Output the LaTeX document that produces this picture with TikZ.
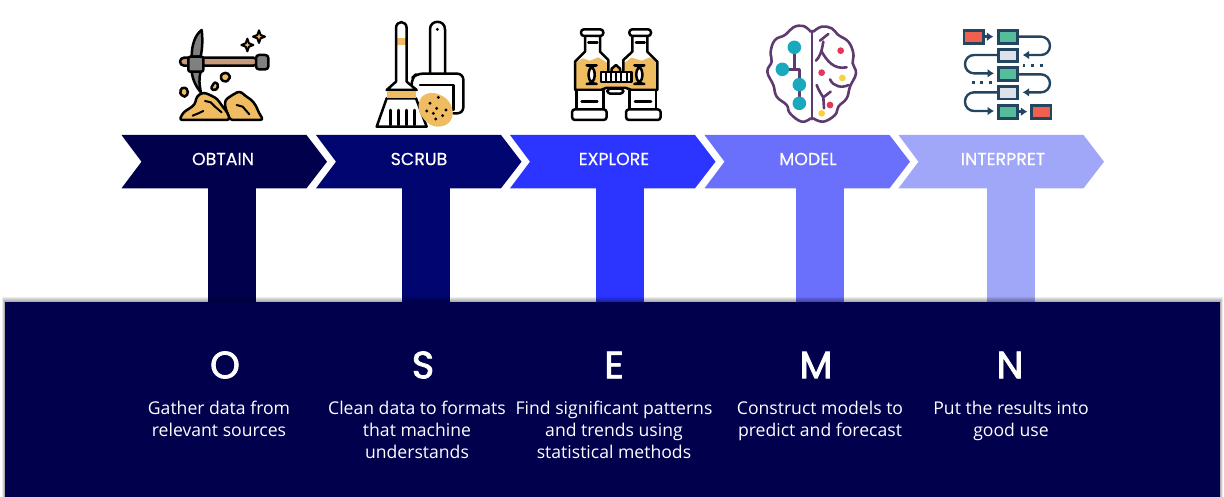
\documentclass[tikz,border=0pt]{standalone}
\usepackage{fontspec}
\setmainfont{Open Sans}
\newfontfamily\popfont[FakeBold=0.4]{Poppins}
\newfontfamily\popbig[FakeBold=2.2]{Poppins}
\usetikzlibrary{arrows.meta}
\definecolor{cOne}{HTML}{00004D}
\definecolor{cTwo}{HTML}{000570}
\definecolor{cThree}{HTML}{2B35FF}
\definecolor{cFour}{HTML}{6B70FC}
\definecolor{cFive}{HTML}{A0A6F8}
\definecolor{gold}{HTML}{F0BC62}
\definecolor{tan}{HTML}{C8997A}
\definecolor{steel}{HTML}{7F8080}
\definecolor{plum}{HTML}{5E3A6E}
\definecolor{teal2}{HTML}{1AA9BC}
\definecolor{redd}{HTML}{E2375A}
\definecolor{yell}{HTML}{F5D33F}
\definecolor{navyl}{HTML}{24455F}
\definecolor{coral}{HTML}{F0604E}
\definecolor{mint}{HTML}{55BC9C}
\definecolor{pale}{HTML}{DEE2E8}
\tikzset{
  chevlabel/.style={text=white,font=\popfont\fontsize{17.4}{20}\selectfont,inner sep=0pt},
  bigletter/.style={text=white,font=\popbig\fontsize{38}{42}\selectfont,inner sep=0pt},
  bodytext/.style={text=white,font=\fontsize{17.6}{22}\selectfont,align=center,inner sep=0pt,anchor=north},
  icon/.style 2 args={shift={(#1,#2)},x=0.33333pt,y=-0.33333pt},
  ink/.style={draw=black,line width=2.5pt,line join=round,line cap=round},
  brainline/.style={draw=plum,line width=2.6pt,line cap=round,line join=round},
  flow/.style={draw=navyl,line width=2.5pt},
  flowarrow/.style={draw=navyl,line width=2.4pt,rounded corners=9pt,-{Latex[length=6.5pt,width=9pt]}},
}
\begin{document}
\begin{tikzpicture}[x=1pt,y=-1pt]
\useasboundingbox (0,0) rectangle (1224,497);
% stems
\foreach \l/\c in {208/cOne,402/cTwo,596/cThree,796/cFour,987/cFive}
  \fill[\c] (\l,186) rectangle (\l+48,303);
% chevrons
\foreach \l/\c in {121.5/cOne,316/cTwo,510/cThree,704.5/cFour,898.5/cFive}
  \fill[\c] (\l,135) -- (\l+185,135) -- (\l+205.5,161.7) -- (\l+185,188.3) -- (\l,188.3) -- (\l+20,161.7) -- cycle;
\node[chevlabel] (lobtain) at (223,159) {OBTAIN};
\node[chevlabel] (lscrub) at (419,159) {SCRUB};
\node[chevlabel] (lexplore) at (614,159) {EXPLORE};
\node[chevlabel] (lmodel) at (808,159) {MODEL};
\node[chevlabel] (linterpret) at (1003,159) {INTERPRET};
% panel shadow
\foreach \d in {1,2,3,4,5}
  \fill[black,opacity=0.075] (5-0.6*\d,302-\d) rectangle (1220+0.6*\d,497);
\fill[cOne] (5,302) rectangle (1220,497);
% letters
\node[bigletter] (bo) at (225,365) {O};
\node[bigletter] (bs) at (423,365) {S};
\node[bigletter] (be) at (614,365) {E};
\node[bigletter] (bm) at (816,365) {M};
\node[bigletter] (bn) at (1010,365) {N};
% body
\node[bodytext] (to) at (219,400.5) {Gather data from\\relevant sources};
\node[bodytext] (ts) at (417,400.5) {Clean data to formats\\that machine\\understands};
\node[bodytext] (te) at (614,400.5) {Find significant patterns\\and trends using\\statistical methods};
\node[bodytext] (tm) at (820,400.5) {Construct models to\\predict and forecast};
\node[bodytext] (tn) at (1011,400.5) {Put the results into\\good use};
% --- pickaxe + piles
\begin{scope}[icon={170}{25}]
  \path[ink,fill=tan,rounded corners=4pt] (30,98) -- (262,98) -- (262,122) -- (30,122) -- cycle;
  \path[ink,fill=steel,rounded corners=3pt] (258,90) rectangle (295,133);
  \path[ink,fill=steel] (95,15) .. controls (75,30) and (65,60) .. (65,95) -- (92,95) .. controls (98,65) and (98,40) .. (95,15) -- cycle;
  \path[ink,fill=steel] (65,140) .. controls (68,165) and (78,185) .. (93,203) .. controls (88,180) and (86,160) .. (92,140) -- cycle;
  \path[ink,fill=steel,rounded corners=2pt] (55,95) rectangle (100,140);
  \foreach \x/\y in {232/60,267/35}
    \path[ink,fill=gold,line width=2pt] (\x,\y-19) -- (\x+5,\y-5) -- (\x+18,\y) -- (\x+5,\y+5) -- (\x,\y+19) -- (\x-5,\y+5) -- (\x-18,\y) -- (\x-5,\y-5) -- cycle;
  \path[ink,fill=gold,rounded corners=2pt] (40,185) -- (55,195) -- (50,215) -- (38,215) -- (28,200) -- cycle;
  \path[ink,fill=gold,rounded corners=2pt] (135,170) -- (147,182) -- (135,198) -- (122,190) -- cycle;
  \path[ink,fill=gold,rounded corners=2pt] (160,142) -- (180,148) -- (178,165) -- (162,172) -- (150,157) -- cycle;
  \path[ink,fill=gold,rounded corners=3pt] (180,285) -- (165,245) -- (165,225) -- (190,208) -- (210,198) -- (225,212) -- (245,225) -- (258,242) -- (266,262) -- (280,285) -- cycle;
  \path[ink,fill=gold,rounded corners=3pt] (28,285) -- (40,262) -- (62,248) -- (75,238) -- (80,214) -- (100,202) -- (125,212) -- (142,222) -- (158,245) -- (172,262) -- (180,285) -- cycle;
  \draw[ink,line width=2pt] (68,272) -- (85,265) -- (100,258);
  \draw[ink,line width=2pt] (105,228) -- (122,232) -- (135,245) -- (155,262);
  \draw[ink,line width=2pt] (200,240) -- (218,245) -- (238,268);
\end{scope}
% --- broom + dustpan
\begin{scope}[icon={160}{10}]
  \path[ink,fill=white] (810,195) -- (810,58) .. controls (810,28) and (855,28) .. (855,58) -- (855,195) -- cycle;
  \fill[black] (832,58) circle (1.6pt);
  \path[ink,fill=white,rounded corners=6pt] (755,240) -- (755,205) -- (770,191) -- (910,191) -- (910,310) -- (880,310);
  \path[ink,fill=white] (780,225) -- (880,225) -- (880,300) -- (780,300);
  \path[fill=white] (708,215) -- (708,55) .. controls (708,30) and (740,30) .. (740,55) -- (740,215) -- (770,240) -- (680,240) -- cycle;
  \fill[gold] (708,85) rectangle (740,105);
  \path[ink] (708,215) -- (708,55) .. controls (708,30) and (740,30) .. (740,55) -- (740,215) -- (770,240) -- (680,240) -- cycle;
  \path[ink,fill=white] (680,265) -- (650,350) -- (800,350) -- (768,265) -- cycle;
  \fill[gold] (681,242) rectangle (767,265);
  \foreach \x in {692,716,740,764}
    \draw[ink] (\x,300) -- (\x,345);
  \fill[gold] (778,275) .. controls (785,245) and (825,245) .. (840,255) .. controls (870,265) and (885,300) .. (875,325) .. controls (865,355) and (820,355) .. (805,340) .. controls (785,325) and (770,300) .. (778,275) -- cycle;
  \foreach \x/\y in {810/280,835/262,800/303,830/295,820/310,848/317,827/327,858/300}
    \fill[black] (\x,\y) circle (1.6pt);
\end{scope}
% --- binoculars
\begin{scope}[icon={570}{20}]
  \path[fill=white] (45,95) -- (15,125) -- (15,210) -- (115,210) -- (115,120) -- (90,95) -- cycle;
  \path[fill=white] (187,95) -- (160,120) -- (160,210) -- (262,210) -- (262,125) -- (232,95) -- cycle;
  \fill[gold] (16,128) -- (38,115) -- (60,122) -- (85,112) -- (114,130) -- (114,152) -- (161,152) -- (161,130) -- (185,113) -- (215,122) -- (240,112) -- (261,128) -- (261,210) -- (190,210) -- (170,204) -- (105,204) -- (90,210) -- (16,210) -- cycle;
  \draw[ink] (45,48) -- (45,95) -- (15,125) -- (15,210) -- (92,210) -- (108,204) -- (168,204) -- (185,210) -- (262,210) -- (262,125) -- (232,95) -- (232,48);
  \draw[ink] (90,48) -- (90,95) -- (115,120) -- (115,155);
  \draw[ink] (187,48) -- (187,95) -- (160,120) -- (160,155);
  \draw[ink] (55,68) -- (82,68);
  \draw[ink] (198,68) -- (224,68);
  \path[ink,fill=white,rounded corners=3pt] (33,28) rectangle (100,48);
  \path[ink,fill=white,rounded corners=3pt] (178,28) rectangle (243,48);
  \path[ink,fill=white,rounded corners=8pt] (56,136) rectangle (74,192);
  \path[ink,fill=white,rounded corners=8pt] (199,136) rectangle (217,192);
  \path[ink,fill=gold] (125,156) -- (125,146) -- (138,135) -- (150,146) -- (150,156);
  \path[ink,fill=white] (93,156) rectangle (185,186);
  \foreach \x in {108,124,139,154,170} \draw[ink,line width=2pt] (\x,156) -- (\x,186);
  \path[ink,fill=white,rounded corners=3pt] (112,206) rectangle (160,221);
  \path[ink,fill=white] (20,212) -- (20,268) -- (100,268) -- (100,212);
  \path[ink,fill=white] (178,212) -- (178,268) -- (258,268) -- (258,212);
  \draw[ink] (35,245) -- (82,245) (195,245) -- (243,245);
  \path[ink,fill=white,rounded corners=3pt] (6,268) rectangle (110,300);
  \path[ink,fill=white,rounded corners=3pt] (168,268) rectangle (272,300);
\end{scope}
% --- brain
\begin{scope}[icon={560}{10}]
  \draw[brainline] plot[smooth,tension=.7] coordinates {(752,65) (730,48) (700,52) (675,75) (645,90) (632,125) (635,155) (622,185) (640,225) (650,260) (680,285) (690,310) (725,335) (752,325)};
  \draw[brainline] plot[smooth,tension=.7] coordinates {(760,65) (785,50) (815,55) (835,75) (865,95) (880,130) (878,160) (888,190) (870,230) (860,265) (835,290) (825,315) (790,335) (760,325)};
  \draw[brainline] (756,62) -- (756,328);
  \draw[brainline] (780,92) -- (805,72);
  \draw[brainline] (790,95) .. controls (785,125) and (780,140) .. (768,152);
  \draw[brainline] (785,125) .. controls (800,150) and (820,180) .. (860,172);
  \draw[brainline] (810,208) .. controls (820,230) and (845,235) .. (866,225);
  \draw[brainline] (770,225) .. controls (778,245) and (785,255) .. (790,262) -- (812,245);
  \draw[brainline] (790,262) -- (792,295);
  \draw[brainline] (703,112) -- (703,178) (667,178) -- (718,178) -- (718,280);
  \foreach \x/\y in {703/112,667/178,718/224,718/280}
    \fill[teal2] (\x,\y) circle (6.8pt);
  \foreach \x/\y in {842/122,785/188,810/285}
    \fill[redd] (\x,\y) circle (3.4pt);
  \foreach \x/\y in {847/204,785/310}
    \fill[yell] (\x,\y) circle (3.4pt);
\end{scope}
% --- flow chart
\begin{scope}[icon={950}{15}]
  \draw[flow,fill=coral] (42,46) rectangle (100,85);
  \draw[flow,fill=mint] (145,46) rectangle (203,85);
  \draw[flow,fill=pale] (145,103) rectangle (203,140);
  \draw[flow,fill=mint] (145,158) rectangle (203,197);
  \draw[flow,fill=pale] (145,215) rectangle (203,252);
  \draw[flow,fill=mint] (145,272) rectangle (203,310);
  \draw[flow,fill=coral] (245,272) rectangle (303,310);
  \draw[flowarrow] (100,65) -- (130,65);
  \draw[flowarrow] (203,65) -- (300,65) -- (300,120) -- (218,120);
  \draw[flowarrow] (145,120) -- (45,120) -- (45,175) -- (132,175);
  \draw[flowarrow] (203,178) -- (300,178) -- (300,232) -- (218,232);
  \draw[flowarrow] (145,232) -- (45,232) -- (45,288) -- (132,288);
  \draw[flowarrow] (203,290) -- (232,290);
  \foreach \x/\y in {222/152,248/152,275/152,70/203,95/203,122/203}
    \fill[navyl] (\x-4,\y-3.5) rectangle (\x+4,\y+3.5);
\end{scope}
\end{tikzpicture}
\end{document}
